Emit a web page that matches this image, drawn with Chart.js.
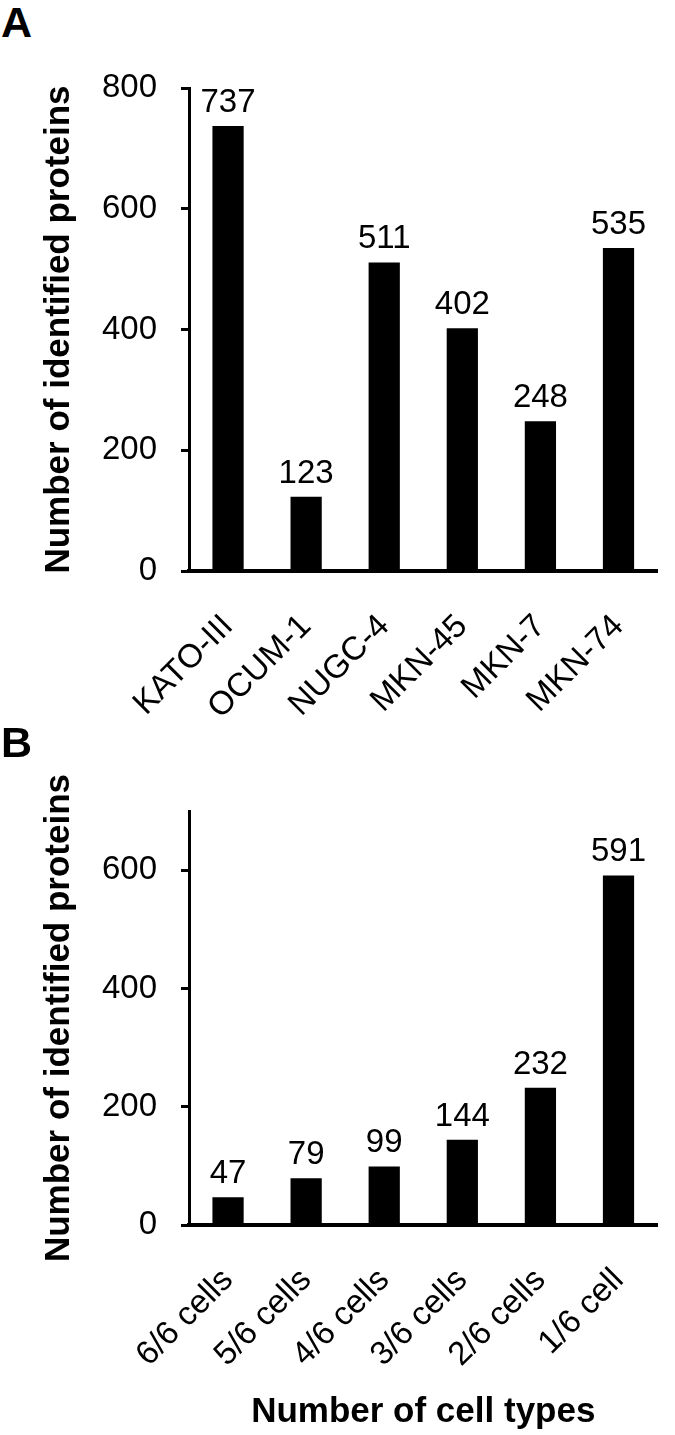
<!DOCTYPE html>
<html>
<head>
<meta charset="utf-8">
<script src="https://cdn.jsdelivr.net/npm/chart.js@4/dist/chart.umd.min.js"></script>
<style>
  body { margin: 0; background: #fff; }
  .panel { position: absolute; left: 0; width: 675px; }
  .letra { position: absolute; left: 1px; font: bold 43px "Liberation Sans", Arial, sans-serif; line-height: 1; color: #000; }
</style>
</head>
<body>
<div class="letra" style="top:1px">A</div>
<canvas id="graficaA" class="panel" width="675" height="720" style="top:0"></canvas>
<div class="letra" style="top:721px">B</div>
<canvas id="graficaB" class="panel" width="675" height="715" style="top:720px"></canvas>

<script>
// Datos grafica A
var lineasCelulares = ["KATO-III", "OCUM-1", "NUGC-4", "MKN-45", "MKN-7", "MKN-74"];
var proteinasPorLinea = [737, 123, 511, 402, 248, 535];
var ticksA = [0, 200, 400, 600, 800];

// Datos grafica B
var tiposCelulares = ["6/6 cells", "5/6 cells", "4/6 cells", "3/6 cells", "2/6 cells", "1/6 cell"];
var proteinasPorTipo = [47, 79, 99, 144, 232, 591];
var ticksB = [0, 200, 400, 600];

var fuente = '"Liberation Sans", Arial, sans-serif';
Chart.defaults.font.family = fuente;
Chart.defaults.color = '#000';

// numeros encima de cada barra
var etiquetas = {
  id: 'etiquetas',
  afterDatasetsDraw: function (chart) {
    var ctx = chart.ctx;
    var datos = chart.data.datasets[0].data;
    ctx.save();
    ctx.font = '33px ' + fuente;
    ctx.fillStyle = '#000';
    ctx.textAlign = 'center';
    ctx.textBaseline = 'alphabetic';
    chart.getDatasetMeta(0).data.forEach(function (barra, i) {
      ctx.fillText(datos[i], barra.x, barra.y - 14);
    });
    ctx.restore();
  }
};

function crearGrafica(id, categorias, valores, marcas, maxY, padTop, altoEjeX, tituloX) {
  var ctx = document.getElementById(id).getContext('2d');
  return new Chart(ctx, {
    type: 'bar',
    data: {
      labels: categorias,
      datasets: [{
        data: valores,
        backgroundColor: '#000',
        borderWidth: 0,
        barPercentage: 0.4,
        categoryPercentage: 1
      }]
    },
    options: {
      responsive: false,
      animation: false,
      layout: { padding: { top: padTop, right: 6, bottom: 0, left: 0 } },
      plugins: { legend: { display: false }, tooltip: { enabled: false } },
      scales: {
        x: {
          grid: { display: false },
          border: { display: true, color: '#000', width: 4 },
          ticks: {
            autoSkip: false, minRotation: 45, maxRotation: 45, padding: 28,
            font: { size: 33 }, color: '#000'
          },
          title: {
            display: !!tituloX, text: tituloX || '',
            font: { size: 35, weight: 'bold', lineHeight: 1.2 }, color: '#000',
            padding: { top: 0, bottom: 2 }
          },
          afterFit: function (scale) { scale.height = altoEjeX; }
        },
        y: {
          min: 0,
          max: maxY,
          grid: { drawOnChartArea: false, drawTicks: true, tickLength: 8, tickColor: '#000', tickWidth: 3 },
          border: { display: true, color: '#000', width: 3 },
          ticks: { stepSize: 200, padding: 24, font: { size: 33 }, color: '#000' },
          afterBuildTicks: function (scale) {
            scale.ticks = marcas.map(function (v) { return { value: v }; });
          },
          title: {
            display: true, text: 'Number of identified proteins',
            font: { size: 35, weight: 'bold', lineHeight: 1.2 }, color: '#000',
            padding: { top: 38, bottom: 0 }
          },
          afterFit: function (scale) { scale.width = 189; }
        }
      }
    },
    plugins: [etiquetas]
  });
}

var graficaA = crearGrafica('graficaA', lineasCelulares, proteinasPorLinea, ticksA, 800, 88, 149, null);
var graficaB = crearGrafica('graficaB', tiposCelulares, proteinasPorTipo, ticksB, 700, 91, 210, 'Number of cell types');
</script>
</body>
</html>
